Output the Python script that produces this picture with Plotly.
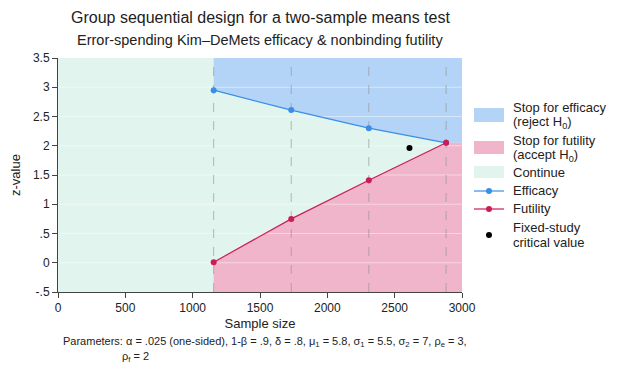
import plotly.graph_objects as go

# Data
sample_sizes = [1156, 1732, 2308, 2882]
efficacy_z = [2.95, 2.61, 2.30, 2.05]
futility_z = [0.01, 0.75, 1.41, 2.05]
fixed_n = [2610]
fixed_z = [1.96]
x_range = [0, 3000]
y_range = [-0.5, 3.5]
x_ticks = [0, 500, 1000, 1500, 2000, 2500, 3000]
y_ticks = [-0.5, 0, 0.5, 1, 1.5, 2, 2.5, 3, 3.5]
y_tick_labels = ["-.5", "0", ".5", "1", "1.5", "2", "2.5", "3", "3.5"]

FONT = "Liberation Sans, Arial, sans-serif"
C_EFF_FILL = "#b4d4f7"
C_FUT_FILL = "#f0b5cb"
C_CONT_FILL = "#e1f5ee"
C_EFF_LINE = "#3a8ee6"
C_FUT_LINE = "#cc1c58"
TXT = "#222"

# page offset (browser body margin ~8px)
OFF = 8
W, H = 629 - OFF, 375 - OFF
ML, MR, MT, MB = 58 - OFF, 167, 58 - OFF, 83
PW, PH = W - ML - MR, H - MT - MB


def px(x):  # absolute screenshot px -> paper x
    return (x - OFF - ML) / PW


def py(y):  # absolute screenshot px -> paper y
    return 1 - (y - OFF - MT) / PH


fig = go.Figure()

# Continue region (whole plot background)
fig.add_trace(go.Scatter(
    x=[x_range[0], x_range[1], x_range[1], x_range[0], x_range[0]],
    y=[y_range[0], y_range[0], y_range[1], y_range[1], y_range[0]],
    fill="toself", fillcolor=C_CONT_FILL, mode="none",
    showlegend=False, hoverinfo="skip"))

# Efficacy region
ex = [sample_sizes[0]] + sample_sizes + [x_range[1], x_range[1]]
ey = [y_range[1]] + efficacy_z + [efficacy_z[-1], y_range[1]]
fig.add_trace(go.Scatter(
    x=ex, y=ey, fill="toself", fillcolor=C_EFF_FILL, mode="none",
    showlegend=False, hoverinfo="skip"))

# Futility region
fx = [sample_sizes[0]] + sample_sizes + [x_range[1], x_range[1]]
fy = [y_range[0]] + futility_z + [futility_z[-1], y_range[0]]
fig.add_trace(go.Scatter(
    x=fx, y=fy, fill="toself", fillcolor=C_FUT_FILL, mode="none",
    showlegend=False, hoverinfo="skip"))

# faint gridlines
gx, gy = [], []
for t in y_ticks[1:-1]:
    gx += [x_range[0], x_range[1], None]
    gy += [t, t, None]
fig.add_trace(go.Scatter(x=gx, y=gy, mode="lines",
                         line=dict(color="rgba(255,255,255,0.45)", width=1),
                         showlegend=False, hoverinfo="skip"))

# Dashed vertical lines at analyses
vx, vy = [], []
for s in sample_sizes:
    vx += [s, s, None]
    vy += [y_range[0], y_range[1], None]
fig.add_trace(go.Scatter(x=vx, y=vy, mode="lines",
                         line=dict(color="rgba(140,140,140,0.6)", width=1, dash="dash"),
                         showlegend=False, hoverinfo="skip"))

fig.add_trace(go.Scatter(
    x=sample_sizes, y=efficacy_z, mode="lines+markers", name="Efficacy",
    line=dict(color=C_EFF_LINE, width=1.2), marker=dict(color=C_EFF_LINE, size=6),
    showlegend=False))
fig.add_trace(go.Scatter(
    x=sample_sizes, y=futility_z, mode="lines+markers", name="Futility",
    line=dict(color=C_FUT_LINE, width=1.2), marker=dict(color=C_FUT_LINE, size=6),
    showlegend=False))
fig.add_trace(go.Scatter(
    x=fixed_n, y=fixed_z, mode="markers", name="Fixed-study critical value",
    marker=dict(color="black", size=6), showlegend=False))

fig.update_layout(
    width=W, height=H,
    margin=dict(l=ML, r=MR, t=MT, b=MB, autoexpand=False),
    paper_bgcolor="white", plot_bgcolor="white",
    font=dict(family=FONT, size=12, color=TXT),
    showlegend=False,
    xaxis=dict(range=x_range, tickvals=x_ticks, showgrid=False, zeroline=False,
               showline=True, linecolor="#444", ticks="outside", ticklen=5,
               tickcolor="#444", tickfont=dict(size=12), automargin=False,
               title=dict(text="Sample size", font=dict(size=13), standoff=4)),
    yaxis=dict(range=y_range, tickvals=y_ticks, ticktext=y_tick_labels,
               showgrid=False, zeroline=False, automargin=False,
               showline=True, linecolor="#444", ticks="outside", ticklen=5,
               tickcolor="#444", tickfont=dict(size=12),
               title=dict(text="z-value", font=dict(size=13), standoff=10)),
)

# Titles
fig.add_annotation(text="Group sequential design for a two-sample means test",
                   xref="paper", yref="paper", x=0.5, y=py(18),
                   xanchor="center", yanchor="middle", showarrow=False,
                   font=dict(size=16, family=FONT, color=TXT))
fig.add_annotation(text="Error-spending Kim\u2013DeMets efficacy & nonbinding futility",
                   xref="paper", yref="paper", x=0.5, y=py(40),
                   xanchor="center", yanchor="middle", showarrow=False,
                   font=dict(size=14.5, family=FONT, color=TXT))

# Footnote
fig.add_annotation(
    text="Parameters: \u03b1 = .025 (one-sided), 1-\u03b2 = .9, \u03b4 = .8, \u03bc<sub>1</sub> = 5.8, "
         "\u03c3<sub>1</sub> = 5.5, \u03c3<sub>2</sub> = 7, \u03c1<sub>e</sub> = 3,",
    xref="paper", yref="paper", x=px(61), y=py(342), xanchor="left", yanchor="middle",
    showarrow=False, font=dict(size=11, family=FONT, color=TXT))
fig.add_annotation(
    text="\u03c1<sub>f</sub> = 2",
    xref="paper", yref="paper", x=px(120), y=py(357), xanchor="left", yanchor="middle",
    showarrow=False, font=dict(size=11, family=FONT, color=TXT))

# Manual legend
SW_X0, SW_X1, TX = 474, 504, 511
legend_boxes = [(C_EFF_FILL, 108, 122), (C_FUT_FILL, 141, 154), (C_CONT_FILL, 166, 178)]
for col, y0, y1 in legend_boxes:
    fig.add_shape(type="rect", xref="paper", yref="paper",
                  x0=px(SW_X0), x1=px(SW_X1), y0=py(y1), y1=py(y0),
                  fillcolor=col, line=dict(width=0))
for col, yy in [(C_EFF_LINE, 191), (C_FUT_LINE, 209)]:
    fig.add_shape(type="line", xref="paper", yref="paper",
                  x0=px(SW_X0), x1=px(SW_X1), y0=py(yy), y1=py(yy),
                  line=dict(color=col, width=1.2))
    fig.add_shape(type="circle", xref="paper", yref="paper",
                  x0=px(486), x1=px(492), y0=py(yy + 3), y1=py(yy - 3),
                  fillcolor=col, line=dict(width=0))
fig.add_shape(type="circle", xref="paper", yref="paper",
              x0=px(486), x1=px(492), y0=py(238), y1=py(232),
              fillcolor="black", line=dict(width=0))

legend_texts = [
    ("Stop for efficacy", 107), ("(reject H<sub>0</sub>)", 122),
    ("Stop for futility", 140), ("(accept H<sub>0</sub>)", 155),
    ("Continue", 172), ("Efficacy", 190), ("Futility", 208),
    ("Fixed-study", 227), ("critical value", 242),
]
for t, yy in legend_texts:
    fig.add_annotation(text=t, xref="paper", yref="paper", x=px(TX), y=py(yy),
                       xanchor="left", yanchor="middle", showarrow=False,
                       font=dict(size=13, family=FONT, color=TXT))

fig.write_html("out.html")
